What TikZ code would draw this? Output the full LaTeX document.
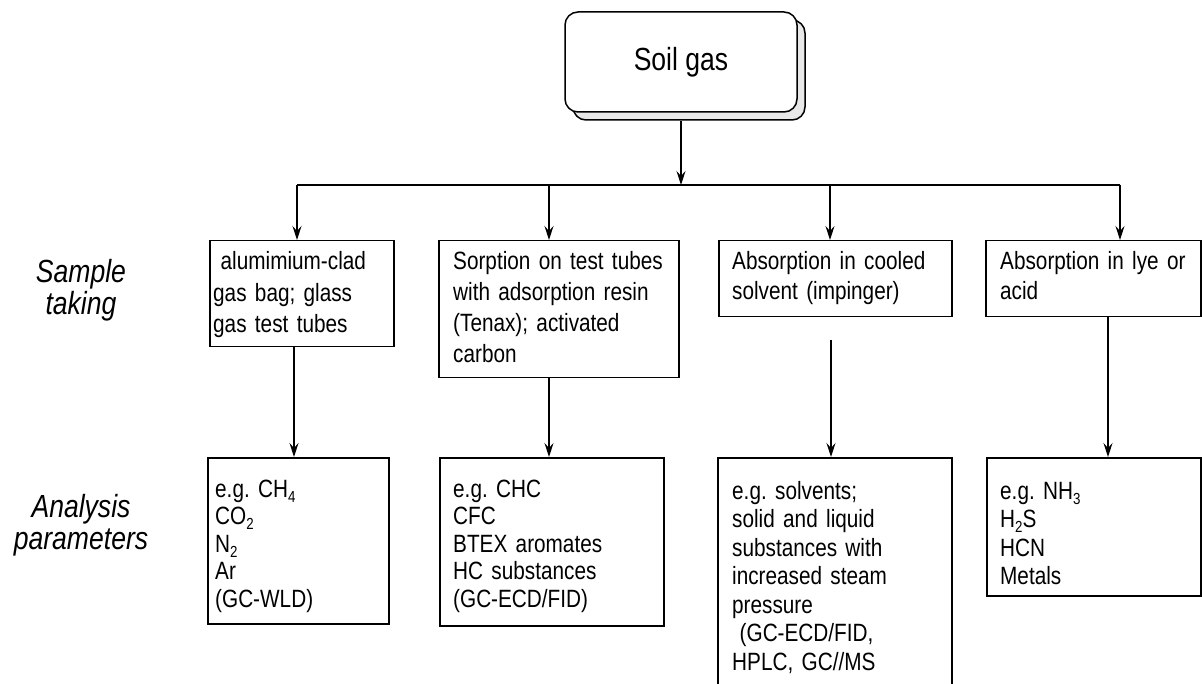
\documentclass[tikz,border=0pt]{standalone}
\usepackage{fontspec}
\setmainfont{Liberation Sans}[FakeStretch=0.83]
\usetikzlibrary{arrows.meta}
% lowered index digit for chemical formulas
\newcommand\lowidx[1]{\raisebox{-0.2em}{\fontsize{16}{16}\selectfont #1}}
\begin{document}
\frenchspacing
\begin{tikzpicture}[x=1pt,y=-1pt,
  box/.style={draw, line width=1.5pt, inner sep=0pt, anchor=north west},
  body/.style={anchor=base west, inner sep=0pt, align=left, text width=#1},
  arr/.style={line width=1.3pt, -{Stealth[length=14pt,width=9pt,inset=5pt]}},
  wire/.style={line width=1.3pt},
  sidelabel/.style={anchor=base, inner sep=0pt, align=center, text width=160pt,
    font=\fontsize{32}{32}\selectfont\itshape},
  boxfont/.style={font=\fontsize{25}{#1}\selectfont}]

\fill[white] (0,0) rectangle (1202,684);
\clip (0,0) rectangle (1202,684);

% source box with its shadow
\node[draw, line width=1.5pt, rounded corners=13pt, fill=gray!18,
      minimum width=232pt, minimum height=100pt] (soilback) at (689,70) {};
\node[draw, line width=1.5pt, rounded corners=13pt, fill=white,
      minimum width=232pt, minimum height=100pt,
      font=\fontsize{32}{36}\selectfont] (soil) at (681,62) {Soil gas};

% distribution bus
\coordinate (d1) at (297,185);
\coordinate (d2) at (549,185);
\coordinate (d3) at (830,185);
\coordinate (d4) at (1120,185);
\draw[wire] (d1) -- (d4);
\draw[arr] (soil.south |- soilback.south) -- (soil.south |- d1);

% sampling methods
\node[box, minimum width=184pt, minimum height=106pt] (t1) at (209,240) {};
\node[box, minimum width=240pt, minimum height=137pt] (t2) at (438,240) {};
\node[box, minimum width=233pt, minimum height=76pt]  (t3) at (718,240) {};
\node[box, minimum width=215pt, minimum height=76pt]  (t4) at (985,240) {};

\draw[arr] (d1) -- (d1 |- t1.north);
\draw[arr] (d2) -- (d2 |- t2.north);
\draw[arr] (d3) -- (d3 |- t3.north);
\draw[arr] (d4) -- (d4 |- t4.north);

\node[body=180pt, boxfont=31.5] (t1txt) at (213,270)
  {\hspace*{0.3em}alumimium-clad\\gas bag; glass\\gas test tubes};
\node[body=225pt, boxfont=31] (t2txt) at (453,270)
  {Sorption on test tubes\\with adsorption resin\\(Tenax); activated\\carbon};
\node[body=215pt, boxfont=30] (t3txt) at (732,270)
  {Absorption in cooled\\solvent (impinger)};
\node[body=200pt, boxfont=30] (t4txt) at (1000,270)
  {Absorption in lye or\\acid};

% analysis parameters
\node[box, minimum width=181pt, minimum height=166pt] (b1) at (207,457) {};
\node[box, minimum width=224pt, minimum height=168pt] (b2) at (439,457) {};
\node[box, minimum width=234pt, minimum height=260pt] (b3) at (717,457) {};
\node[box, minimum width=214pt, minimum height=138pt] (b4) at (986,457) {};

\coordinate (u1) at (294,0);
\coordinate (u2) at (549,0);
\coordinate (u3) at (831,340);
\coordinate (u4) at (1108,0);
\draw[arr] (u1 |- t1.south) -- (u1 |- b1.north);
\draw[arr] (u2 |- t2.south) -- (u2 |- b2.north);
\draw[arr] (u3) -- (u3 |- b3.north);
\draw[arr] (u4 |- t4.south) -- (u4 |- b4.north);

\node[body=170pt, boxfont=27.5] (b1txt) at (215,497)
  {e.g. CH\lowidx{4}\\CO\lowidx{2}\\N\lowidx{2}\\Ar\\(GC-WLD)};
\node[body=200pt, boxfont=27.5] (b2txt) at (453,497)
  {e.g. CHC\\CFC\\BTEX aromates\\HC substances\\(GC-ECD/FID)};
\node[body=215pt, boxfont=28.5] (b3txt) at (732,499)
  {e.g. solvents;\\solid and liquid\\substances with\\increased steam\\pressure\\\hspace*{0.3em}(GC-ECD/FID,\\HPLC, GC//MS};
\node[body=195pt, boxfont=28.5] (b4txt) at (1000,499)
  {e.g. NH\lowidx{3}\\H\lowidx{2}S\\HCN\\Metals};

% row captions
\node[sidelabel] (lsample) at (81,283) {Sample\\taking};
\node[sidelabel] (lanalysis) at (81,517) {Analysis\\parameters};
\end{tikzpicture}
\end{document}
